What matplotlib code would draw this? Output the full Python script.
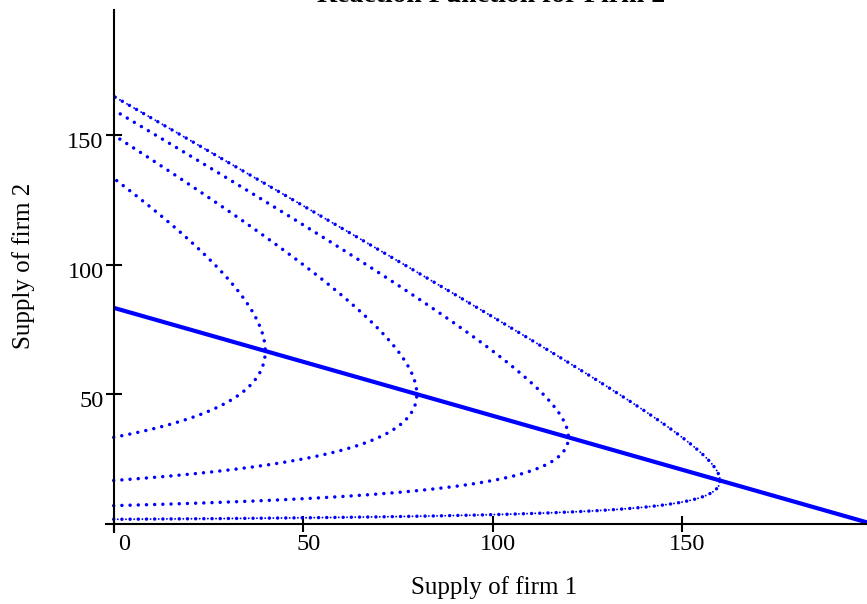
import numpy as np
import matplotlib
matplotlib.use("Agg")
from matplotlib import pyplot as plt
from matplotlib import transforms

plt.rcParams['font.family'] = ['Liberation Serif', 'DejaVu Serif']

# reaction function of firm 2 (read at both ends)
reaction_q1 = [0, 200]
reaction_q2 = [83.33, 0]

# vertices of the isoprofit curves, they sit on the reaction line
vertex_q1 = [40, 80, 120, 160]
vertex_q2 = [66.67, 50, 33.33, 16.67]

x_ticks = [0, 50, 100, 150]
y_ticks = [50, 100, 150]

BLUE = (0, 0, 1)


def isoprofit(q1v, s, b):
    """Isoprofit curve of firm 2 through (q1v, s), from q1 = 0 to q1 = 0."""
    m = 2 * s + b * q1v
    disc = np.sqrt(m * m - 4 * s * s)
    lo, hi = (m - disc) / 2, (m + disc) / 2
    q2 = np.geomspace(lo, hi, 3000)
    q1 = q1v - (q2 - s) ** 2 / (b * q2)
    return np.clip(q1, 0, None), q2


fig = plt.figure(figsize=(8.67, 6.04), dpi=100)
W, H = 867, 604
left, right, top, bottom = 106, 867, 10, 531.7
ax = fig.add_axes([left / W, 1 - bottom / H, (right - left) / W, (bottom - top) / H])
ax.set_xlim(-2.03, 198.8)
ax.set_ylim(-3.1, 198.3)

# slope of the reaction line gives the demand slope
b = 2 * (reaction_q2[0] - reaction_q2[1]) / (reaction_q1[1] - reaction_q1[0])

for i, (q1v, s) in enumerate(zip(vertex_q1, vertex_q2)):
    cx, cy = isoprofit(q1v, s, b)
    ax.plot(cx, cy, color=BLUE, lw=2.5, linestyle=(0, (0.01, 2.35)),
            dash_capstyle='round', clip_on=False)
    if i == len(vertex_q1) - 1:
        # outer curve is drawn denser, small dots in between
        ax.plot(cx, cy, color=BLUE, lw=1.4, linestyle=(2.1, (0.01, 4.2)),
                dash_capstyle='round', clip_on=False)

ax.plot(reaction_q1, reaction_q2, color=BLUE, lw=3.0, solid_capstyle='butt')

for side in ['top', 'right']:
    ax.spines[side].set_visible(False)
ax.spines['left'].set_position(('data', 0))
ax.spines['bottom'].set_position(('data', 0))
for side in ['left', 'bottom']:
    ax.spines[side].set_linewidth(1.5)

ax.set_xticks(x_ticks)
ax.set_yticks(y_ticks)
ax.tick_params(direction='inout', length=11.5, width=1.5, labelsize=17.5, pad=1.5)

for lab, t in zip(ax.get_xticklabels(), x_ticks):
    dx = 7.2 if t == 0 else 3.6
    lab.set_transform(lab.get_transform() + transforms.ScaledTranslation(dx / 72, 0, fig.dpi_scale_trans))
for lab in ax.get_yticklabels():
    lab.set_transform(lab.get_transform() + transforms.ScaledTranslation(0, -3.6 / 72, fig.dpi_scale_trans))

fig.text(491 / W, 1 - 2 / H, 'Reaction Function for Firm 2', ha='center', va='baseline',
         fontsize=20, fontweight='bold')
fig.text(494 / W, 1 - 594 / H, 'Supply of firm 1', ha='center', va='baseline', fontsize=18)
fig.text(24 / W, 1 - 266 / H, 'Supply of firm 2', ha='center', va='center', fontsize=18,
         rotation=90)

fig.savefig('out.png', dpi=100)
